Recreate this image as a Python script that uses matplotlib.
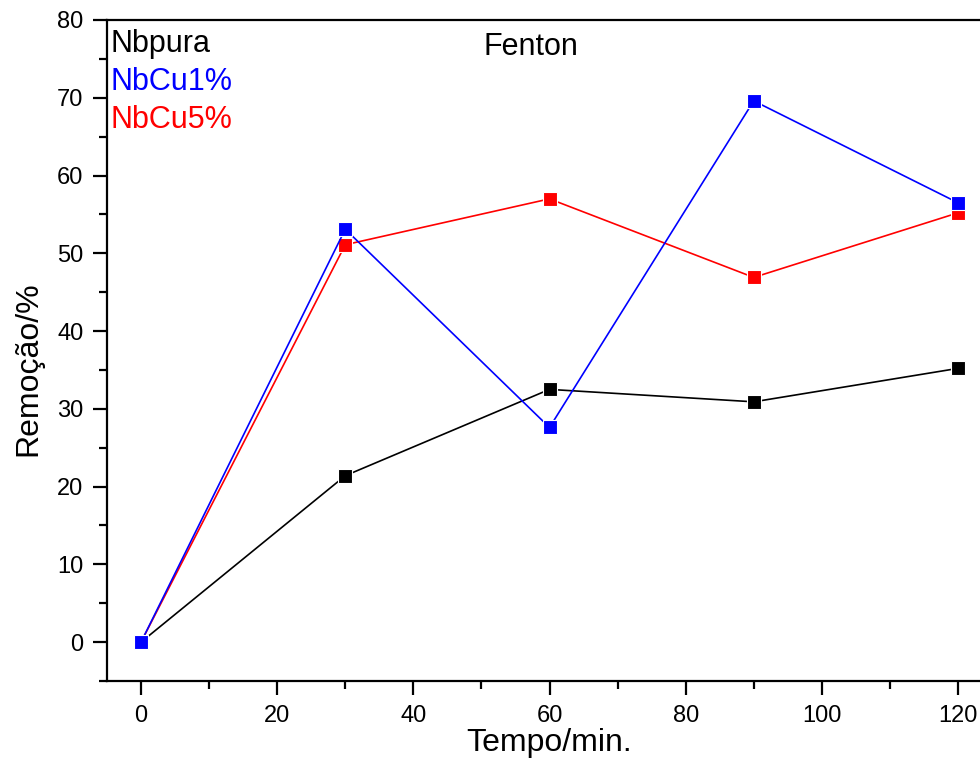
import matplotlib
matplotlib.use("Agg")
import matplotlib.pyplot as plt
from matplotlib.ticker import MultipleLocator

plt.rcParams['font.family'] = ['Liberation Sans', 'DejaVu Sans']

tempo = [0, 30, 60, 90, 120]
nbpura = [0, 21.4, 32.5, 30.9, 35.2]
nbcu1 = [0, 53.1, 27.6, 69.6, 56.5]
nbcu5 = [0, 51.1, 57.0, 46.9, 55.2]
series_names = ["Nbpura", "NbCu1%", "NbCu5%"]
colors = ["black", "#0000ff", "#ff0000"]

W, H = 980, 760
fig = plt.figure(figsize=(W/100, H/100), dpi=100)
ax = fig.add_axes([107/W, 1-681/H, (992-107)/W, (681-20)/H])

draw_order = [(nbpura, colors[0]), (nbcu5, colors[2]), (nbcu1, colors[1])]
for vals, c in draw_order:
    ax.plot(tempo, vals, color=c, lw=1.2, marker='s', markersize=9.5,
            markerfacecolor=c, markeredgecolor='white', markeredgewidth=0.8)

ax.set_xlim(-5, 125)
ax.set_ylim(-5, 80)
ax.xaxis.set_major_locator(MultipleLocator(20))
ax.xaxis.set_minor_locator(MultipleLocator(10))
ax.yaxis.set_major_locator(MultipleLocator(10))
ax.yaxis.set_minor_locator(MultipleLocator(5))
ax.tick_params(which='major', direction='out', length=10, width=1.6, labelsize=17, pad=7)
ax.tick_params(which='minor', direction='out', length=5.5, width=1.6)
for s in ax.spines.values():
    s.set_linewidth(1.6)

fig.text(549/W, 1-751/H, "Tempo/min.", fontsize=23, ha='center', va='baseline')
fig.text(36/W, 1-369/H, "Remoção/%", fontsize=23, rotation=90,
         rotation_mode='anchor', ha='center', va='baseline')

fig.text(483/W, 1-55/H, "Fenton", fontsize=22, ha='left', va='baseline')
baselines = [52, 90, 128]
for name, c, y in zip(series_names, colors, baselines):
    fig.text(110/W, 1-y/H, name, fontsize=22, color=c, ha='left', va='baseline')

fig.savefig("out.png", dpi=100)
